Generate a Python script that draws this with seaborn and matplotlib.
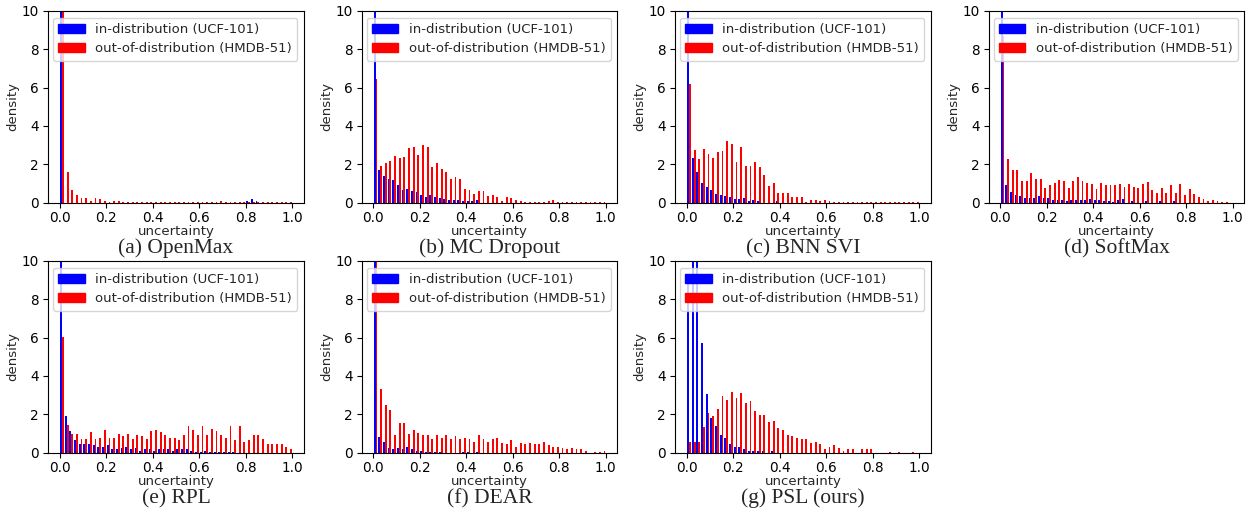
import numpy as np
import pandas as pd
import matplotlib.pyplot as plt
import seaborn as sns
from matplotlib.patches import Patch

# histogram bins over uncertainty in [0, 1]
n_bins = 50
bin_edges = np.linspace(0, 1, n_bins + 1)
bin_centers = (bin_edges[:-1] + bin_edges[1:]) / 2

id_label = "in-distribution (UCF-101)"
ood_label = "out-of-distribution (HMDB-51)"

captions = ["(a) OpenMax", "(b) MC Dropout", "(c) BNN SVI", "(d) SoftMax",
            "(e) RPL", "(f) DEAR", "(g) PSL (ours)"]

# density per bin
openmax_id = [49.5, 0, 0, 0, 0, 0, 0, 0, 0, 0,
              0, 0, 0, 0, 0, 0, 0, 0, 0, 0,
              0, 0, 0, 0, 0, 0, 0, 0, 0, 0,
              0, 0, 0, 0, 0, 0, 0, 0, 0, 0,
              0.1, 0.16, 0.1, 0, 0, 0, 0, 0, 0, 0]
openmax_ood = [45.0, 1.6, 0.68, 0.42, 0.26, 0.26, 0.1, 0.26, 0.16, 0.1,
               0.05, 0.1, 0.1, 0.05, 0.02, 0.02, 0.05, 0.02, 0.02, 0.05,
               0.05, 0.02, 0.05, 0.02, 0.02, 0.02, 0.05, 0.02, 0.02, 0.02,
               0.02, 0.02, 0.02, 0.02, 0.1, 0.02, 0.02, 0.02, 0.05, 0.02,
               0.02, 0.02, 0.02, 0.02, 0.02, 0.02, 0.02, 0.02, 0.02, 0.02]

mcdrop_id = [38.6, 1.72, 1.37, 1.22, 1.17, 0.9, 0.64, 0.73, 0.59, 0.54,
             0.37, 0.28, 0.4, 0.28, 0.24, 0.17, 0.14, 0.14, 0.12, 0.07,
             0.07, 0.07, 0.12, 0, 0, 0, 0, 0, 0, 0,
             0, 0, 0, 0, 0, 0, 0, 0, 0, 0,
             0, 0, 0, 0, 0, 0, 0, 0, 0, 0]
mcdrop_ood = [6.43, 1.9, 2.09, 2.16, 2.42, 2.35, 2.38, 2.85, 2.89, 2.47,
              2.99, 2.9, 1.86, 2.09, 1.74, 1.58, 1.22, 1.32, 1.22, 0.71,
              0.68, 0.43, 0.59, 0.59, 0.35, 0.4, 0.28, 0.07, 0.28, 0.23,
              0.12, 0.07, 0.04, 0.04, 0.02, 0.02, 0.02, 0.07, 0.14, 0.02,
              0.02, 0.02, 0.02, 0.02, 0.02, 0.02, 0.02, 0.02, 0.02, 0.02]

bnn_id = [41.3, 2.31, 1.6, 1.0, 0.8, 0.64, 0.43, 0.38, 0.33, 0.28,
          0.17, 0.17, 0.23, 0.07, 0.12, 0.07, 0, 0, 0, 0.07,
          0, 0, 0, 0, 0, 0, 0, 0, 0, 0,
          0, 0, 0, 0, 0, 0, 0, 0, 0, 0,
          0, 0, 0, 0, 0, 0, 0, 0, 0, 0]
bnn_ood = [6.17, 2.73, 2.26, 2.78, 2.56, 2.31, 2.63, 2.68, 3.2, 3.04,
           2.12, 2.89, 1.9, 1.9, 2.14, 1.84, 1.46, 0.85, 1.0, 0.5,
           0.49, 0.49, 0.28, 0.28, 0.28, 0.04, 0.12, 0.12, 0.07, 0.12,
           0.07, 0.02, 0.02, 0.02, 0.02, 0.02, 0.02, 0.02, 0.02, 0.02,
           0.02, 0.02, 0.02, 0.02, 0.02, 0.02, 0.02, 0.02, 0.02, 0.02]

softmax_id = [44.3, 0.9, 0.56, 0.4, 0.33, 0.23, 0.23, 0.23, 0.33, 0.23,
              0.23, 0.12, 0.12, 0.12, 0.07, 0.12, 0.12, 0.12, 0.12, 0.17,
              0.12, 0.12, 0.07, 0.07, 0.04, 0.12, 0.17, 0, 0.07, 0,
              0, 0.07, 0, 0, 0.07, 0, 0, 0.07, 0, 0,
              0, 0, 0, 0, 0, 0, 0, 0, 0, 0]
softmax_ood = [8.68, 2.26, 1.69, 1.69, 1.11, 1.15, 1.53, 1.22, 1.22, 0.77,
               0.9, 1.04, 1.17, 1.15, 0.77, 1.15, 1.34, 1.15, 1.04, 0.96,
               0.7, 1.04, 0.9, 0.9, 0.9, 0.99, 0.82, 0.96, 0.82, 0.77,
               0.96, 1.06, 0.68, 0.5, 0.77, 0.5, 0.9, 0.5, 0.96, 0.4,
               0.7, 0.43, 0.28, 0.17, 0.07, 0.12, 0.07, 0.02, 0.02, 0]

rpl_id = [39.8, 1.93, 1.1, 0.68, 0.47, 0.47, 0.42, 0.37, 0.31, 0.31,
          0.37, 0.21, 0.21, 0.26, 0.31, 0.16, 0.26, 0.1, 0.16, 0.16,
          0.1, 0.21, 0.21, 0.16, 0.1, 0.16, 0.16, 0.16, 0.1, 0.05,
          0.05, 0.1, 0.05, 0.05, 0.05, 0.05, 0.05, 0.03, 0, 0,
          0, 0, 0, 0, 0, 0, 0, 0, 0, 0]
rpl_ood = [6.05, 1.46, 0.99, 0.99, 0.73, 0.73, 1.05, 0.73, 0.78, 1.15,
           0.78, 0.78, 0.99, 0.84, 0.99, 0.73, 0.89, 0.84, 0.73, 1.1,
           1.15, 1.05, 0.94, 0.78, 0.78, 0.63, 0.94, 1.36, 1.2, 0.89,
           1.36, 0.89, 1.25, 1.1, 0.94, 0.78, 1.41, 0.68, 1.36, 0.57,
           0.63, 0.94, 0.89, 0.73, 0.47, 0.47, 0.47, 0.42, 0.31, 0.16]

dear_id = [46.6, 0.82, 0.57, 0.26, 0.21, 0.26, 0.21, 0.31, 0.16, 0.1,
           0.1, 0.05, 0.05, 0.05, 0.05, 0, 0, 0, 0, 0.05,
           0.05, 0, 0.05, 0, 0, 0, 0, 0, 0, 0,
           0, 0, 0, 0, 0, 0, 0, 0, 0, 0,
           0, 0, 0, 0, 0, 0, 0, 0, 0, 0]
dear_ood = [14.2, 3.34, 2.46, 2.2, 0.94, 1.55, 1.55, 0.99, 1.2, 1.04,
            0.89, 0.89, 0.73, 0.89, 0.78, 0.89, 0.73, 0.84, 0.73, 0.78,
            0.73, 0.57, 0.94, 0.73, 0.57, 0.73, 0.78, 0.52, 0.47, 0.63,
            0.31, 0.52, 0.47, 0.52, 0.47, 0.47, 0.57, 0.37, 0.31, 0.31,
            0.26, 0.16, 0.26, 0.21, 0.16, 0.1, 0, 0.05, 0.05, 0.1]

psl_id = [8.84, 12.5, 13.3, 5.71, 3.08, 1.81, 1.41, 0.94, 0.77, 0.42,
          0.31, 0.31, 0.21, 0.1, 0.1, 0.07, 0.07, 0, 0.07, 0,
          0, 0, 0, 0, 0, 0, 0, 0, 0, 0,
          0, 0, 0, 0, 0, 0, 0, 0, 0, 0,
          0, 0, 0, 0, 0, 0, 0, 0, 0, 0]
psl_ood = [0.54, 0.57, 0.57, 1.35, 2.07, 1.93, 2.28, 2.97, 2.73, 3.17,
           2.87, 3.11, 2.56, 2.71, 2.17, 1.98, 1.98, 1.58, 1.67, 1.29,
           1.18, 0.94, 0.87, 0.78, 0.71, 0.71, 0.52, 0.57, 0.45, 0.16,
           0.31, 0.37, 0.24, 0.1, 0.16, 0.21, 0, 0.16, 0.16, 0.16,
           0, 0, 0, 0.05, 0, 0.05, 0, 0, 0.05, 0]

panels = [(openmax_id, openmax_ood), (mcdrop_id, mcdrop_ood), (bnn_id, bnn_ood),
          (softmax_id, softmax_ood), (rpl_id, rpl_ood), (dear_id, dear_ood),
          (psl_id, psl_ood)]

sns.set_style("ticks", {"axes.edgecolor": "black", "xtick.color": "black",
                        "ytick.color": "black"})
plt.rcParams["font.family"] = "DejaVu Sans"
plt.rcParams["font.size"] = 9.5
plt.rcParams["axes.labelsize"] = 9.5
plt.rcParams["xtick.labelsize"] = 9.8
plt.rcParams["ytick.labelsize"] = 9.8
plt.rcParams["legend.fontsize"] = 9.5
plt.rcParams["xtick.major.size"] = 3.5
plt.rcParams["ytick.major.size"] = 3.5
plt.rcParams["xtick.major.pad"] = 2.5
plt.rcParams["ytick.major.pad"] = 3

palette = {id_label: "blue", ood_label: "red"}

fig, axes = plt.subplots(2, 4, figsize=(12.51, 5.14), dpi=100)
fig.subplots_adjust(left=0.0384, right=0.9948, top=0.9786, bottom=0.1196,
                    wspace=0.225, hspace=0.305)

for ax, (id_vals, ood_vals), caption in zip(axes.flat, panels, captions):
    df = pd.DataFrame({
        "uncertainty": np.concatenate([bin_centers, bin_centers]),
        "density": id_vals + ood_vals,
        "source": [id_label] * len(id_vals) + [ood_label] * len(ood_vals),
    })
    sns.histplot(data=df, x="uncertainty", weights="density", hue="source",
                 hue_order=[id_label, ood_label], palette=palette,
                 bins=n_bins, binrange=(0, 1), multiple="dodge", shrink=0.8,
                 alpha=1, linewidth=0, legend=False, ax=ax)
    ax.set_xlim(-0.05, 1.05)
    ax.set_ylim(0, 10)
    ax.set_xticks([0.0, 0.2, 0.4, 0.6, 0.8, 1.0])
    ax.set_yticks([0, 2, 4, 6, 8, 10])
    ax.set_xlabel("uncertainty", labelpad=0)
    ax.set_ylabel("density", labelpad=1.5)
    ax.legend(handles=[Patch(color="blue", label=id_label),
                       Patch(color="red", label=ood_label)],
              loc="upper right")
    ax.text(0.5, -0.24, caption, transform=ax.transAxes, ha="center",
            va="center", fontsize=15.5, family="Liberation Serif")

axes[1, 3].axis("off")

fig.savefig("out.png", dpi=100)
